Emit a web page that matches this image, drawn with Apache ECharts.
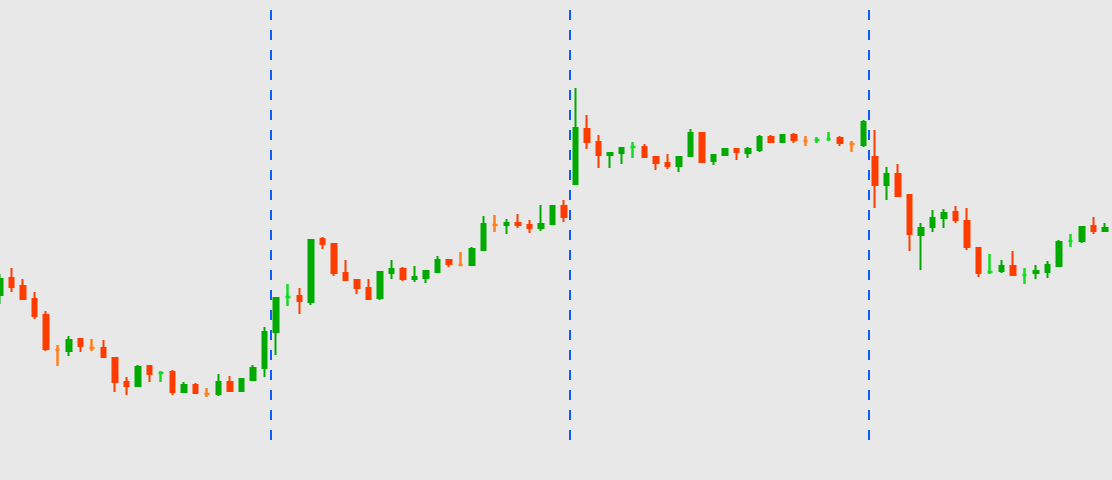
<!DOCTYPE html>
<html><head><meta charset="utf-8">
<script src="https://cdn.jsdelivr.net/npm/echarts@6/dist/echarts.min.js"></script>
<style>html,body{margin:0;padding:0;background:#e8e8e8}#c{width:1112px;height:480px}</style>
</head><body><div id="c"></div>
<script>
const opens = [185,202,194,181,165,130,129,141,132,132,
  122,98,94,114,107,108,88,95,86,86,
  98,89,100,112,148,183,184,178,241,236,
  207,200,192,182,207,211,201,202,208,220,
  215,215,230,255,255,257,255,252,256,274,
  296,351,338,325,327,333,333,323,317,314,
  324,347,319,325,331,327,330,343,338,345,
  339,340,341,342,336,335,323,295,306,285,
  245,253,262,268,259,232,208,209,214,205,
  207,208,214,239,239,254,249];
const closes = [201,193,181,164,131,130,140,134,132,123,
  98,94,113,106,107,88,95,87,86,98,
  89,101,112,148,182,183,179,240,236,207,
  200,192,181,208,211,201,203,209,220,216,
  215,231,256,255,257,255,252,256,274,263,
  352,338,325,327,332,333,323,317,314,323,
  347,318,325,331,328,331,343,338,345,340,
  339,340,341,337,336,358,295,306,284,246,
  252,262,267,260,233,207,208,214,205,205,
  209,215,238,239,253,249,252];
const highs = [206,212,201,188,169,135,144,141,141,140,
  123,103,115,115,109,110,98,97,92,106,
  104,102,115,153,183,196,192,241,243,237,
  220,201,201,208,220,213,214,210,224,220,
  228,233,264,265,261,266,260,275,275,280,
  392,365,345,328,333,338,336,323,326,324,
  351,347,325,332,332,333,345,345,346,347,
  344,343,348,344,339,360,350,313,316,285,
  257,270,271,274,272,233,226,220,229,212,
  215,219,240,246,254,263,257];
const lows = [176,188,180,161,129,114,124,128,129,122,
  88,85,94,98,98,85,88,86,83,84,
  88,89,100,103,125,174,166,175,231,204,
  199,186,181,180,201,199,198,197,208,213,
  215,214,230,248,246,252,247,249,255,258,
  296,331,312,312,316,322,322,310,311,308,
  324,318,315,324,320,322,328,337,337,337,
  334,337,339,334,328,333,272,280,284,229,
  210,248,252,257,230,203,206,207,204,196,
  201,202,213,233,237,246,248];
const sessionBreaks = [23.5, 49.5, 75.5];

const UP = '#00aa00', DOWN = '#ff3c00', DOJI_UP = '#11dd22', DOJI_DOWN = '#ff8020';
const data = opens.map((o, i) => {
  const c = closes[i];
  const item = { value: [i, o, c, lows[i], highs[i]] };
  if (o === c) {
    const up = i === 0 || closes[i - 1] <= c;
    const col = up ? DOJI_UP : DOJI_DOWN;
    item.itemStyle = { color: col, color0: col, borderColor: col, borderColor0: col, borderWidth: 2.5 };
  }
  return item;
});

const chart = echarts.init(document.getElementById('c'), null, { renderer: 'canvas' });
chart.setOption({
  animation: false,
  backgroundColor: '#e8e8e8',
  grid: { left: 0, right: 0, top: 10, bottom: 40 },
  xAxis: { type: 'value', min: 0, max: 96.61, show: false, splitLine: { show: false } },
  yAxis: { type: 'value', min: 40, max: 470, show: false, splitLine: { show: false } },
  series: [{
    type: 'candlestick',
    barWidth: 5,
    encode: { x: 0, y: [1, 2, 3, 4] },
    itemStyle: { color: UP, color0: DOWN, borderColor: UP, borderColor0: DOWN, borderWidth: 2 },
    data: data,
    markLine: {
      silent: true,
      symbol: ['none', 'none'],
      label: { show: false },
      lineStyle: { color: '#0a5cff', width: 2, type: [10, 10] },
      data: sessionBreaks.map(x => ({ xAxis: x }))
    }
  }]
});
</script>
</body></html>
